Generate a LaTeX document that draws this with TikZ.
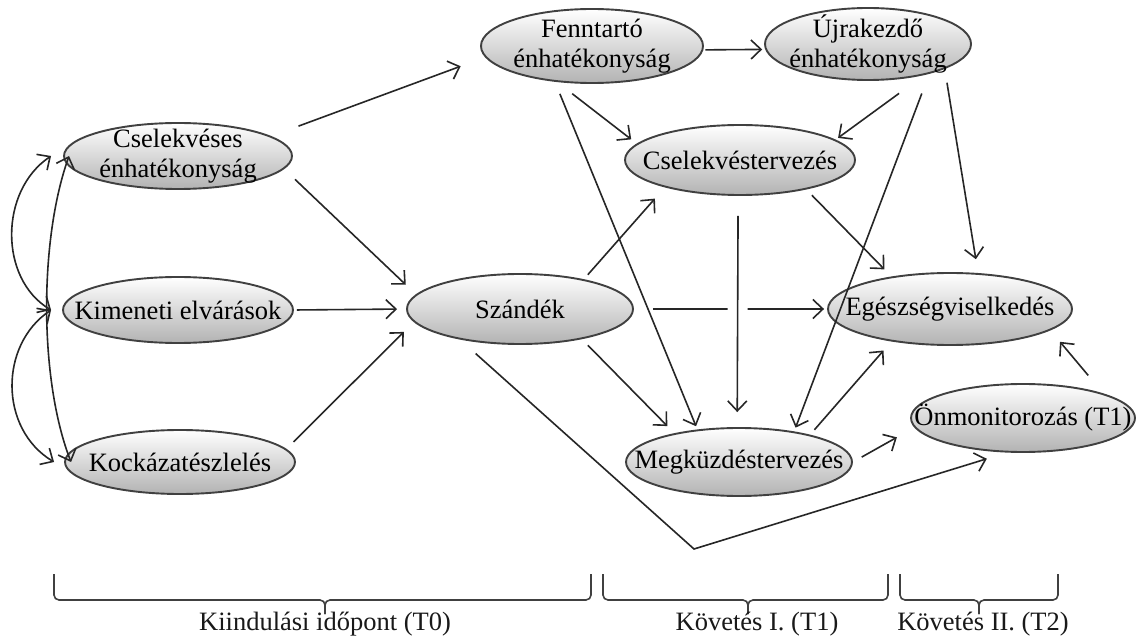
\documentclass[tikz,border=0pt]{standalone}
\usepackage{fontspec}
\setmainfont{Liberation Serif}
\usetikzlibrary{shapes.geometric,arrows.meta}
\begin{document}
\fontsize{26.5}{30}\selectfont
\begin{tikzpicture}[x=1pt,y=-1pt,
  bub/.style 2 args={ellipse, draw=black!75, line width=1.9pt,
    top color=white, bottom color=black!30,
    minimum width=#1, minimum height=#2, inner sep=0pt},
  arr/.style={draw=black!85, line width=1.6pt,
    -{Straight Barb[length=10pt,width=19pt]}},
  corr/.style={draw=black!85, line width=1.6pt,
    {Straight Barb[length=10pt,width=19pt]}-{Straight Barb[length=10pt,width=19pt]}},
  brace/.style={draw=black!75, line width=1.6pt, rounded corners=5pt},
  period/.style={inner sep=0pt, text=black!90}
]
\useasboundingbox (0,0) rectangle (1141,636);
\fill[white] (0,0) rectangle (1141,636);

% ---- constructs (T0)
\node[bub={228}{66}, label={[align=center]center:{Cselekvéses\\énhatékonyság}}] (cse) at (178,156) {};
\node[bub={230}{66}, label={center:Kimeneti elvárások}] (kim) at (178,310) {};
\node[bub={230}{64}, label={center:Kockázatészlelés}] (koc) at (180,462) {};
\node[bub={226}{70}, label={center:Szándék}] (sza) at (520,309) {};

% ---- follow-up I (T1)
\node[bub={222}{74}, label={[align=center]center:{Fenntartó\\énhatékonyság}}] (fen) at (592,46) {};
\node[bub={206}{72}, label={[align=center]center:{Újrakezdő\\énhatékonyság}}] (ujr) at (868,44) {};
\node[bub={230}{70}, label={center:Cselekvéstervezés}] (ctv) at (740,160) {};
\node[bub={226}{68}, label={center:Megküzdéstervezés}] (mgk) at (739,462) {};
\node[bub={224}{68}, label={center:Önmonitorozás (T1)}] (onm) at (1023,418) {};

% ---- follow-up II (T2)
\node[bub={244}{72}, label={center:Egészségviselkedés}] (egs) at (950,309) {};

\coordinate (bend) at (694,549);

% ---- correlations among the predictors
\draw[corr] ([xshift=-11pt]kim.west) .. controls +(-52,-31) and +(-52,35) .. ([xshift=-12pt]cse.west);
\draw[corr] ([xshift=-11pt]kim.west) .. controls +(-52,35) and +(-55,-33) .. ([xshift=-10pt]koc.west);
\draw[corr] ([xshift=6pt]cse.west) .. controls +(-30,84) and +(-32,-82) .. ([xshift=7pt]koc.west);

% ---- paths
\draw[arr, shorten <=29pt, shorten >=26pt] (cse.12.5) -- (fen.186.5);
\draw[arr, shorten <=15pt, shorten >=14pt] (cse.-7.7) -- (sza.172.7);
\draw[arr, shorten <=3pt, shorten >=9pt] (kim.east) -- (sza.west);
\draw[arr, shorten <=10pt, shorten >=14pt] (koc.7.2) -- (sza.187.1);

\draw[arr, shorten <=2pt, shorten >=3pt] (fen.-2) -- (ujr.183.4);
\draw[arr, shorten <=19pt, shorten >=7pt] (fen.-134) -- (ctv.171.3);
\draw[arr, shorten <=13pt, shorten >=3.5pt] (fen.-136.7) -- (mgk.142);

\draw[arr, shorten <=31pt, shorten >=3pt] (ujr.-29.6) -- (ctv.12.2);
\draw[arr, shorten <=21pt, shorten >=4pt] (ujr.-26.3) -- (mgk.29.8);
\draw[arr, shorten <=14pt, shorten >=14pt] (ujr.-18.4) -- (egs.52);

\draw[arr, shorten <=8pt, shorten >=10pt] (ctv.-24.5) -- (egs.151.2);

\draw[arr, shorten <=6pt, shorten >=15pt] (sza.25.9) -- (ctv.200.3);
\draw[arr, shorten <=19pt, shorten >=3pt] (sza.east) -- (egs.west);
\draw[arr, shorten <=8.5pt, shorten >=10pt] (sza.-26.9) -- (mgk.156.4);
\draw[arr, shorten <=21pt, shorten >=21pt] (sza.207.8) -- (bend) -- (onm.-115);

% the vertical path hops over the horizontal one
\draw[arr, shorten <=20pt, shorten >=15pt,
  preaction={draw=white, line width=20pt, arrows=-}] (ctv.-93) -- (mgk.93);

\draw[arr, shorten <=6.5pt, shorten >=12pt] (mgk.21.9) -- (egs.209.5);
\draw[arr, shorten <=10pt, shorten >=20pt] (mgk.0) -- (onm.185);
\draw[arr, shorten <=23.5pt, shorten >=15pt] (onm.17.9) -- (egs.-12.3);

% ---- measurement periods
\draw[brace] (54,574) -- (54,600) -- (325,600) -- (325,614);
\draw[brace] (591,574) -- (591,600) -- (325,600) -- (325,614);
\draw[brace] (603,574) -- (603,600) -- (748,600) -- (748,614);
\draw[brace] (888,574) -- (888,600) -- (748,600) -- (748,614);
\draw[brace] (900,574) -- (900,600) -- (979,600) -- (979,614);
\draw[brace] (1058,574) -- (1058,600) -- (979,600) -- (979,614);

\node[period] (t0) at (325,624) {Kiindulási időpont (T0)};
\node[period] (t1) at (757,624) {Követés I. (T1)};
\node[period] (t2) at (983,624) {Követés II. (T2)};
\end{tikzpicture}
\end{document}
